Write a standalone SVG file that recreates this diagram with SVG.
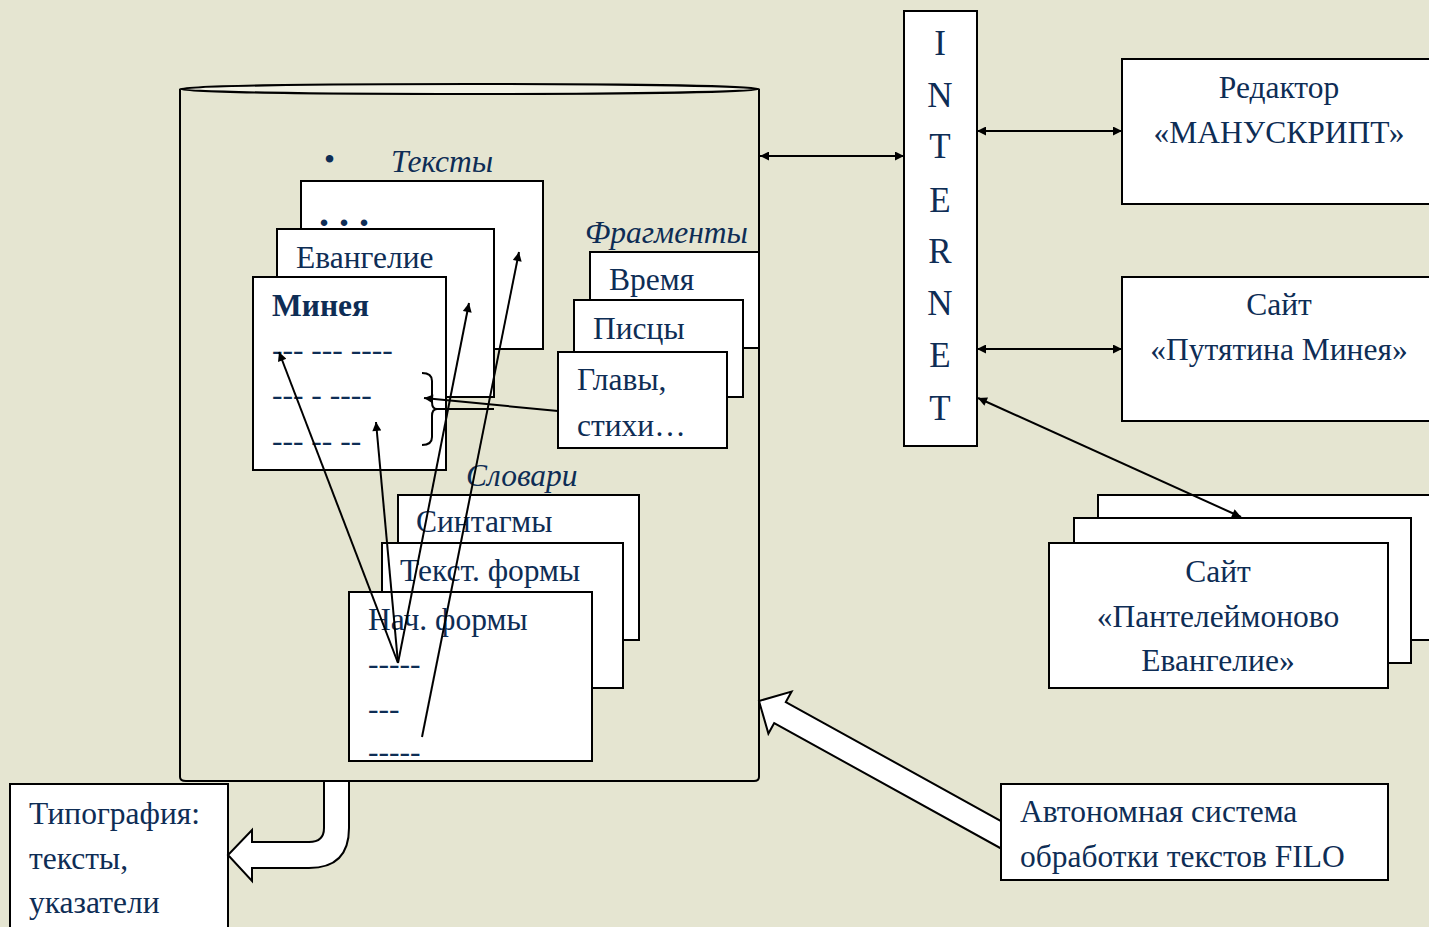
<svg xmlns="http://www.w3.org/2000/svg" width="1429" height="927" viewBox="0 0 1429 927">
<defs>
<marker id="ah" viewBox="0 0 10 10" refX="10" refY="5" markerWidth="12" markerHeight="9" markerUnits="userSpaceOnUse" orient="auto-start-reverse">
<path d="M0,0 L10,5 L0,10 z" fill="#000"/>
</marker>
<style>
.box{fill:#fff;stroke:#000;stroke-width:2}
.t{font-family:"Liberation Serif","Times New Roman",serif;font-size:31.5px;fill:#0e2d55}
.i{font-style:italic}
.b{font-weight:bold}
.c{text-anchor:middle}
.ln{fill:none;stroke:#000;stroke-width:2}
.la{fill:none;stroke:#000;stroke-width:2;marker-end:url(#ah)}
.lb{fill:none;stroke:#000;stroke-width:2;marker-start:url(#ah);marker-end:url(#ah)}
.blk{fill:#fff;stroke:#000;stroke-width:2;stroke-linejoin:miter}
</style>
</defs>
<rect width="1429" height="927" fill="#e5e5d1"/>

<g id="database">
<path class="ln" d="M180,89 L180,777 Q180,781 186,781 L754,781 Q759,781 759,777 L759,89"/>
<ellipse cx="469.5" cy="89" rx="289.5" ry="5" fill="#f3f3e6" stroke="#000" stroke-width="2"/>
</g>

<g id="texts">
<text class="t" x="324" y="170">•</text>
<text class="t i" x="391" y="172">Тексты</text>
<rect class="box" x="301" y="181" width="242" height="168"/>
<text class="t b" x="319" y="226" style="font-size:40px">. . .</text>
<rect class="box" x="277" y="229" width="217" height="168"/>
<text class="t" x="296" y="268">Евангелие</text>
<rect class="box" x="253" y="277" width="193" height="193"/>
<text class="t b" x="272" y="316">Минея</text>
<text class="t" x="272" y="360">--- --- ----</text>
<text class="t" x="272" y="405">--- - ----</text>
<text class="t" x="272" y="451">--- -- --</text>
<path class="ln" stroke-width="1.8" d="M422,373 Q432,373 432,381 L432,402 Q432,409 437,409 Q432,409 432,416 L432,437 Q432,445 422,445"/>
</g>

<g id="fragments">
<text class="t i" x="585" y="243">Фрагменты</text>
<rect class="box" x="590" y="252" width="169" height="96"/>
<text class="t" x="609" y="290">Время</text>
<rect class="box" x="574" y="300" width="169" height="97"/>
<text class="t" x="593" y="339">Писцы</text>
<rect class="box" x="558" y="352" width="169" height="96"/>
<text class="t" x="577" y="390">Главы,</text>
<text class="t" x="577" y="436">стихи…</text>
</g>

<g id="dictionaries">
<text class="t i" x="466" y="486">Словари</text>
<rect class="box" x="398" y="495" width="241" height="145"/>
<text class="t" x="416" y="532">Синтагмы</text>
<rect class="box" x="382" y="543" width="241" height="145"/>
<text class="t" x="400" y="581">Текст. формы</text>
<rect class="box" x="349" y="592" width="243" height="169"/>
<text class="t" x="368" y="630">Нач. формы</text>
<text class="t" x="368" y="674">-----</text>
<text class="t" x="368" y="719">---</text>
<text class="t" x="368" y="762">-----</text>
</g>

<g id="internet">
<rect class="box" x="904" y="11" width="73" height="435"/>
<g class="t c" style="font-size:35px">
<text x="940" y="55">I</text>
<text x="940" y="107">N</text>
<text x="940" y="158">T</text>
<text x="940" y="212">E</text>
<text x="940" y="263">R</text>
<text x="940" y="315">N</text>
<text x="940" y="367">E</text>
<text x="940" y="420">T</text>
</g>
</g>

<g id="editor">
<rect class="box" x="1122" y="59" width="320" height="145"/>
<text class="t c" x="1279" y="98">Редактор</text>
<text class="t c" x="1279" y="143">«МАНУСКРИПТ»</text>
</g>

<g id="site-putyatina">
<rect class="box" x="1122" y="277" width="320" height="144"/>
<text class="t c" x="1279" y="315">Сайт</text>
<text class="t c" x="1279" y="360">«Путятина Минея»</text>
</g>

<g id="site-panteleimon">
<rect class="box" x="1098" y="495" width="345" height="145"/>
<rect class="box" x="1074" y="518" width="337" height="145"/>
<rect class="box" x="1049" y="543" width="339" height="145"/>
<text class="t c" x="1218" y="582">Сайт</text>
<text class="t c" x="1218" y="627">«Пантелеймоново</text>
<text class="t c" x="1218" y="671">Евангелие»</text>
</g>

<g id="typography">
<rect class="box" x="10" y="784" width="218" height="160"/>
<text class="t" x="29" y="824">Типография:</text>
<text class="t" x="29" y="869">тексты,</text>
<text class="t" x="29" y="913">указатели</text>
</g>

<g id="connectors">
<line class="la" x1="398" y1="663" x2="279" y2="352"/>
<line class="la" x1="398" y1="663" x2="376" y2="422"/>
<line class="la" x1="398" y1="663" x2="469" y2="303"/>
<line class="la" x1="422" y1="737" x2="519" y2="252"/>
<line class="la" x1="558" y1="411" x2="424" y2="398"/>
<line class="ln" x1="437" y1="409" x2="494" y2="409"/>
<line class="lb" x1="760" y1="156" x2="904" y2="156"/>
<line class="lb" x1="977" y1="131" x2="1122" y2="131"/>
<line class="lb" x1="977" y1="349" x2="1122" y2="349"/>
<line class="lb" x1="978" y1="398" x2="1241" y2="517"/>
<path class="blk" d="M759,701 L791.6,691.6 L785.8,702.1 L1001,821 L1001,848.5 L774.2,723.1 L768.4,733.6 Z"/>
<path class="blk" d="M349,782 L349,828 Q349,868 309,868 L252,868 L252,881 L228,855 L252,830 L252,842 L309,842 Q324,842 324,828 L324,782"/>
</g>

<g id="filo">
<rect class="box" x="1001" y="784" width="387" height="96"/>
<text class="t" x="1020" y="822">Автономная система</text>
<text class="t" x="1020" y="867">обработки текстов FILO</text>
</g>
</svg>
